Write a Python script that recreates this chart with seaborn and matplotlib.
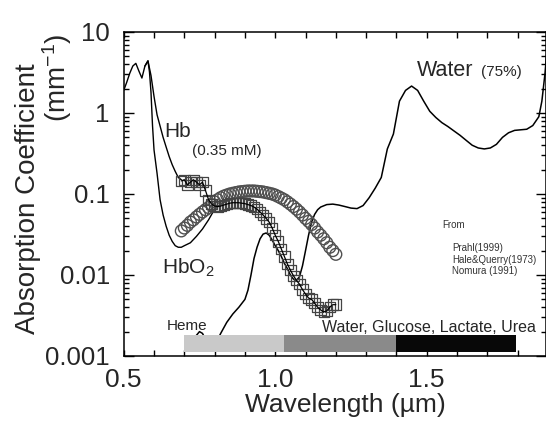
import numpy as np
import pandas as pd
import matplotlib
matplotlib.use("Agg")
import matplotlib.pyplot as plt
import seaborn as sns

# ---------------- data ----------------
hb_wl = [0.50, 0.51, 0.52, 0.53, 0.54, 0.55, 0.56, 0.57, 0.58, 0.59, 0.60,
         0.61, 0.62, 0.63, 0.64, 0.65, 0.66, 0.67, 0.68, 0.69]
hb_val = [1.9, 2.4, 3.1, 3.8, 4.1, 3.3, 2.7, 3.8, 4.4, 2.9, 1.6,
          0.95, 0.69, 0.50, 0.38, 0.29, 0.23, 0.19, 0.16, 0.15]

hbo2_wl = [0.57, 0.58, 0.585, 0.59, 0.595, 0.60, 0.61, 0.62, 0.63, 0.64, 0.65,
           0.66, 0.67, 0.68, 0.69, 0.70, 0.72, 0.74, 0.76, 0.78, 0.80]
hbo2_val = [3.8, 4.4, 3.2, 1.8, 0.7, 0.35, 0.18, 0.085, 0.055, 0.040, 0.031,
            0.026, 0.023, 0.022, 0.022, 0.023, 0.025, 0.030, 0.037, 0.048, 0.065]

circ_wl = [round(0.69 + 0.01 * i, 2) for i in range(52)]
circ_val = [0.035, 0.038, 0.041, 0.045, 0.048, 0.052, 0.056, 0.060, 0.064, 0.068,
            0.074, 0.080, 0.085, 0.090, 0.094, 0.097, 0.100, 0.102, 0.104, 0.106,
            0.107, 0.108, 0.109, 0.109, 0.109, 0.108, 0.107, 0.106, 0.104, 0.102,
            0.100, 0.097, 0.093, 0.089, 0.085, 0.080, 0.075, 0.070, 0.065, 0.060,
            0.055, 0.050, 0.046, 0.042, 0.038, 0.034, 0.031, 0.028, 0.025, 0.022,
            0.020, 0.018]

sq_wl = [round(0.69 + 0.01 * i, 2) for i in range(52)]
sq_val = [0.145, 0.15, 0.13, 0.14, 0.15, 0.14, 0.13, 0.14, 0.11, 0.085,
          0.075, 0.071, 0.070, 0.071, 0.073, 0.075, 0.077, 0.078, 0.078, 0.078,
          0.077, 0.076, 0.074, 0.072, 0.069, 0.065, 0.060, 0.055, 0.050, 0.045,
          0.038, 0.031, 0.026, 0.021, 0.017, 0.0137, 0.0115, 0.0098, 0.0086, 0.0077,
          0.0066, 0.0058, 0.0052, 0.0050, 0.0045, 0.0040, 0.0037, 0.0035, 0.0036, 0.0040,
          0.0043, 0.0043]

water_wl = [0.72, 0.73, 0.74, 0.75, 0.76, 0.77, 0.78, 0.79, 0.80, 0.81, 0.82, 0.84,
            0.86, 0.88, 0.90, 0.91, 0.92, 0.93, 0.94, 0.95, 0.96, 0.97, 0.98, 0.99,
            1.00, 1.01, 1.02, 1.03, 1.04, 1.05, 1.06, 1.07, 1.08, 1.09, 1.10, 1.11,
            1.12, 1.13, 1.14, 1.15, 1.17, 1.19, 1.21, 1.23, 1.25, 1.27, 1.29, 1.31,
            1.33, 1.35, 1.37, 1.39, 1.41, 1.43, 1.45, 1.47, 1.49, 1.51, 1.53, 1.55,
            1.57, 1.59, 1.61, 1.63, 1.65, 1.67, 1.69, 1.71, 1.73, 1.75, 1.77, 1.79,
            1.81, 1.83, 1.85, 1.87, 1.88, 1.89, 1.90]
water_val = [0.0012, 0.0015, 0.0018, 0.0020, 0.0019, 0.0016, 0.0014, 0.0013, 0.0014, 0.0016,
             0.0019, 0.0026, 0.0033, 0.0040, 0.0050, 0.0065, 0.010, 0.016, 0.022, 0.028,
             0.032, 0.033, 0.031, 0.027, 0.023, 0.020, 0.017, 0.014, 0.012, 0.010,
             0.0089, 0.0086, 0.0095, 0.013, 0.020, 0.031, 0.045, 0.056, 0.064, 0.069,
             0.074, 0.075, 0.073, 0.070, 0.067, 0.066, 0.072, 0.090, 0.118, 0.16,
             0.36, 0.55, 1.4, 1.9, 2.15, 1.9, 1.4, 1.05, 0.88, 0.76,
             0.68, 0.60, 0.53, 0.46, 0.40, 0.37, 0.36, 0.37, 0.41, 0.50,
             0.57, 0.61, 0.62, 0.63, 0.70, 0.90, 1.4, 3.0, 8.0]

band_edges = [0.70, 1.03, 1.40, 1.795]
band_colors = ["#c9c9c9", "#8a8a8a", "#080808"]
band_low, band_high = 0.00112, 0.00182

x_ticks = [0.5, 1.0, 1.5]
x_ticklabels = ["0.5", "1.0", "1.5"]
y_ticks = [0.001, 0.01, 0.1, 1, 10]
y_ticklabels = ["0.001", "0.01", "0.1", "1", "10"]
source_lines = ["Prahl(1999)", "Hale&Querry(1973)", "Nomura (1991)"]

# ---------------- style ----------------
sns.set_style("ticks")
plt.rcParams["font.family"] = ["Liberation Sans", "DejaVu Sans"]
plt.rcParams["mathtext.fontset"] = "custom"
plt.rcParams["mathtext.rm"] = "Liberation Sans"
plt.rcParams["mathtext.it"] = "Liberation Sans:italic"
plt.rcParams["mathtext.default"] = "regular"

fig = plt.figure(figsize=(5.46, 4.22), dpi=100)
ax = fig.add_axes([0.2266, 0.1564, 0.7725, 0.7678])
ax.set_yscale("log")
ax.set_xlim(0.5, 1.892)
ax.set_ylim(0.001, 10)

# lines
sns.lineplot(x=water_wl, y=water_val, ax=ax, color="black", lw=1.1,
             sort=False, estimator=None, zorder=2)
sns.lineplot(x=hb_wl, y=hb_val, ax=ax, color="black", lw=1.0,
             sort=False, estimator=None, zorder=3)
sns.lineplot(x=hbo2_wl, y=hbo2_val, ax=ax, color="black", lw=1.0,
             sort=False, estimator=None, zorder=3)

# markers
sns.scatterplot(x=circ_wl, y=circ_val, ax=ax, marker="o", s=72,
                facecolor="none", edgecolor="#505050", linewidth=1.0, zorder=4)
sns.scatterplot(x=sq_wl, y=sq_val, ax=ax, marker="s", s=56,
                facecolor="none", edgecolor="#444444", linewidth=0.9, zorder=4)
sns.lineplot(x=sq_wl, y=sq_val, ax=ax, color="black", lw=0.9,
             sort=False, estimator=None, zorder=5)

# spectral bands
for left, right, col in zip(band_edges[:-1], band_edges[1:], band_colors):
    ax.bar(left, band_high - band_low, width=right - left, bottom=band_low,
           align="edge", color=col, edgecolor="none", zorder=6)

# axes formatting
ax.set_xticks(x_ticks)
ax.set_xticklabels(x_ticklabels, fontsize=19)
ax.set_xticks(np.arange(0.6, 1.9, 0.1), minor=True)
ax.set_yticks(y_ticks)
ax.set_yticklabels(y_ticklabels, fontsize=18.5)
ax.yaxis.set_minor_locator(matplotlib.ticker.LogLocator(base=10, subs=np.arange(2, 10)))
ax.yaxis.set_minor_formatter(matplotlib.ticker.NullFormatter())
ax.tick_params(axis="both", which="both", direction="in", top=True, right=True,
               width=1.0, color="black")
ax.tick_params(axis="y", which="major", length=7, pad=10)
ax.tick_params(axis="y", which="minor", length=3.5)
ax.tick_params(axis="x", which="both", length=4, pad=9)
for sp in ax.spines.values():
    sp.set_linewidth(1.1)
    sp.set_color("black")

ax.set_xlabel("Wavelength (µm)", fontsize=19)
ax.xaxis.set_label_coords(0.525, -0.115)
ax.set_ylabel("")
fig.text(0.052, 0.53, "Absorption Coefficient", rotation=90, fontsize=20,
         ha="center", va="center")
fig.text(0.105, 0.815, "(mm$^{-1}$)", rotation=90, fontsize=20,
         ha="center", va="center")

# annotations
ax.text(0.635, 0.50, "Hb", fontsize=15, ha="left", va="baseline")
ax.text(0.726, 0.30, "(0.35 mM)", fontsize=11, ha="left", va="baseline")
ax.text(0.626, 0.0105, "HbO$_2$", fontsize=15, ha="left", va="baseline")
ax.text(1.468, 2.86, "Water", fontsize=15.5, ha="left", va="baseline")
ax.text(1.68, 2.86, "(75%)", fontsize=11, ha="left", va="baseline")
ax.text(1.155, 0.00198, "Water, Glucose, Lactate, Urea", fontsize=11.5,
        ha="left", va="baseline")
ax.text(0.643, 0.0021, "Heme", fontsize=11, ha="left", va="baseline")
ax.text(1.55, 0.038, "From", fontsize=7, ha="left", va="baseline", color="#333333")
for s, yv in zip(source_lines, [0.0197, 0.014, 0.0103]):
    ax.text(1.584, yv, s, fontsize=7, ha="left", va="baseline", color="#333333")

fig.savefig("out.png", dpi=100)
